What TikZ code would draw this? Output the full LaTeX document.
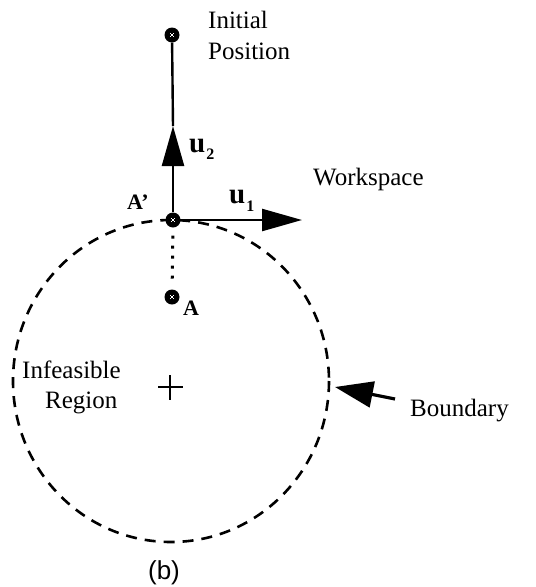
\documentclass[tikz,border=0pt]{standalone}
\usepackage{fontspec}
\setmainfont{Liberation Serif}
\newfontfamily\capfont{Liberation Sans}
\usetikzlibrary{arrows.meta}
\tikzset{
  lbl/.style={inner sep=0pt, anchor=base west, font=\fontsize{25}{30}\selectfont},
  blbl/.style={inner sep=0pt, anchor=base west, font=\fontsize{22}{24}\selectfont\bfseries},
  ulbl/.style={inner sep=0pt, anchor=base west, font=\fontsize{29}{30}\selectfont\bfseries},
  dotpt/.style={circle, fill=black, inner sep=0pt, minimum size=15pt, path picture={
      \begin{scope}[shift={(path picture bounding box.center)}]
        \foreach \i/\j in {-1/-1,1/-1,0/0,-1/1,1/1}{
          \fill[white] (\i*1.7-0.75,\j*1.7-0.75) rectangle ++(1.5,1.5);
        }
      \end{scope}}},
  bigtip/.style={-{Triangle[length=40pt,width=22pt]}, line width=2.4pt},
  bnd/.style={draw, line width=2.6pt, dash pattern=on 11pt off 8pt}
}
\begin{document}
\begin{tikzpicture}[x=1pt,y=-1pt]
  \useasboundingbox (0,0) rectangle (536,587);
  % boundary circle
  \draw[bnd] (171,381) ellipse [x radius=158, y radius=161];
  % points
  \node[dotpt] (init) at (172,35) {};
  \node[dotpt] (Ap) at (173,220) {};
  \node[dotpt] (A) at (172,297) {};
  \coordinate (u2tip) at (173,126);
  \coordinate (u1tip) at (302,220);
  \coordinate (btail) at (395,399);
  \coordinate (btip) at (335,387);
  % connectors
  \draw[line width=2.4pt] (u2tip) -- (init);
  \draw[bigtip] (Ap) -- (u2tip);
  \draw[bigtip] (Ap) -- (u1tip);
  \draw[line width=3pt, dash pattern=on 3pt off 7pt, shorten <=8pt, shorten >=8pt] (Ap) -- (A);
  \draw[-{Triangle[length=38pt,width=26pt]}, line width=3.2pt] (btail) -- (btip);
  % centre mark
  \draw[line width=2pt] (158,387) -- (183,387) (170,375) -- (170,400);
  % labels
  \node[lbl] (tinit1) at (208,28) {Initial};
  \node[lbl] (tinit2) at (208,59) {Position};
  \node[lbl] (tws) at (313,185) {Workspace};
  \node[lbl] (tinf1) at (22,378) {Infeasible};
  \node[lbl] (tinf2) at (45,408) {Region};
  \node[lbl] (tbd) at (410,416) {Boundary};
  \node[ulbl] (tu2) at (189,152) {u\kern1pt\raisebox{-7pt}{\fontsize{16}{16}\selectfont 2}};
  \node[ulbl] (tu1) at (229,203) {u\kern1pt\raisebox{-8pt}{\fontsize{16}{16}\selectfont 1}};
  \node[blbl] (tAp) at (127,209) {A'};
  \node[blbl] (tA) at (183,315) {A};
  \node[inner sep=0pt, anchor=base, font=\capfont\fontsize{26}{28}\selectfont] (cap) at (164,579) {(b)};
\end{tikzpicture}
\end{document}
